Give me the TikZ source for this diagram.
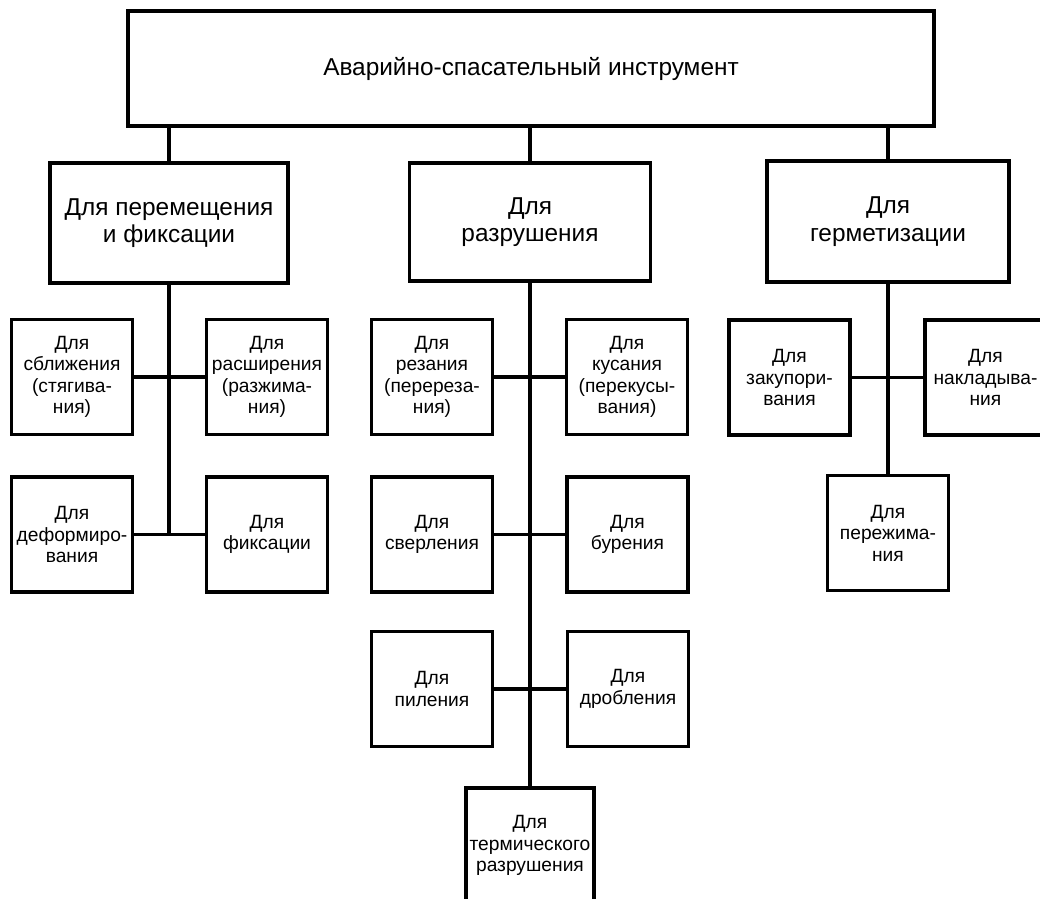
\documentclass[tikz,border=0pt]{standalone}
\usepackage{fontspec}
\setmainfont{Liberation Sans}
\tikzset{
  box/.style={draw, line width=2.3pt, align=center, inner sep=0pt},
  bigbox/.style={box, font=\fontsize{18.3}{20.5}\selectfont},
  toolbox/.style={box, minimum width=90.75pt, minimum height=86.25pt,
    font=\fontsize{14.4}{16.1}\selectfont},
  link/.style={line width=2.3pt}
}
\begin{document}
\begin{tikzpicture}[x=0.75pt, y=-0.75pt]
  \useasboundingbox (0,0) rectangle (1040,899);
  \node[bigbox, minimum width=604.5pt, minimum height=86.25pt] (top) at(531,68.5){Аварийно-спасательный инструмент};

  \node[bigbox, minimum width=178.5pt, minimum height=90pt] (move) at(169,223){Для перемещения\\и фиксации};
  \node[bigbox, minimum width=180.75pt, minimum height=88.5pt] (break) at(530,222){Для\\разрушения};
  \node[bigbox, minimum width=181.5pt, minimum height=90.75pt] (seal) at(888,221.5){Для\\герметизации};

  \node[toolbox] (pull) at(72,377){Для\\сближения\\(стягива-\\ния)};
  \node[toolbox] (spread) at(267,377){Для\\расширения\\(разжима-\\ния)};
  \node[toolbox] (deform) at(72,534.5){Для\\деформиро-\\вания};
  \node[toolbox] (fix) at(267,534.5){Для\\фиксации};

  \node[toolbox] (cut) at(432,377){Для\\резания\\(перереза-\\ния)};
  \node[toolbox] (bite) at(627,377){Для\\кусания\\(перекусы-\\вания)};
  \node[toolbox] (drill) at(432,534.5){Для\\сверления};
  \node[toolbox] (bore) at(627.5,534.5){Для\\бурения};
  \node[toolbox] (saw) at(432,689){Для\\пиления};
  \node[toolbox] (crush) at(628,689){Для\\дробления};
  \node[toolbox, minimum width=96pt] (heat) at(530,845.5){Для\\термического\\разрушения};

  \node[toolbox] (plug) at(789.5,377.5){Для\\закупори-\\вания};
  \node[toolbox] (patch) at(985.5,377.5){Для\\накладыва-\\ния};
  \node[toolbox] (clamp) at(888,533){Для\\пережима-\\ния};

  \draw[link] (move.north) -- (move.north |- top.south);
  \draw[link] (break.north) -- (break.north |- top.south);
  \draw[link] (seal.north) -- (seal.north |- top.south);

  \draw[link] (move.south) -- (move.south |- fix.west);
  \draw[link] (pull.east) -- (spread.west);
  \draw[link] (deform.east) -- (fix.west);

  \draw[link] (break.south) -- (heat.north);
  \draw[link] (cut.east) -- (bite.west);
  \draw[link] (drill.east) -- (bore.west);
  \draw[link] (saw.east) -- (crush.west);

  \draw[link] (seal.south) -- (clamp.north);
  \draw[link] (plug.east) -- (patch.west);
\end{tikzpicture}
\end{document}
